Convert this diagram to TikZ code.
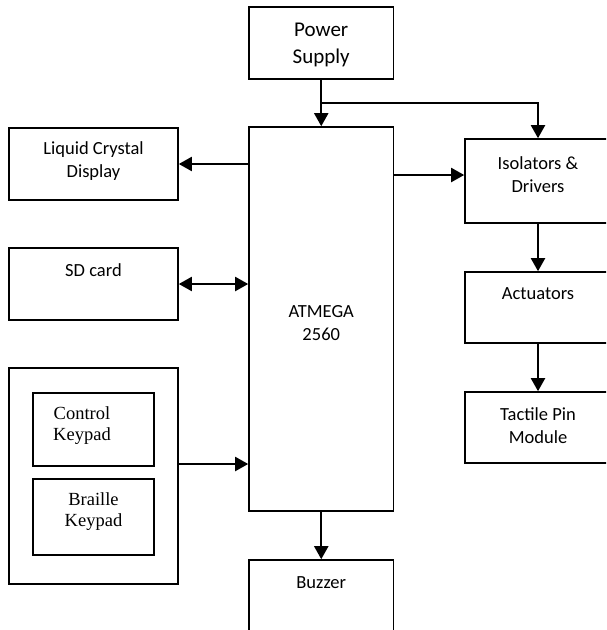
\documentclass[tikz,border=0pt]{standalone}
\usepackage{fontspec}
\setmainfont{Carlito}
\newfontfamily\keyfont{Liberation Serif}
\usetikzlibrary{arrows.meta}
\tikzset{blk/.style = {draw, line width=1.6pt, rectangle, inner sep=0, anchor=center}}
\tikzset{txt/.style = {align=center, inner sep=0, font=\fontsize{18.5}{23}\selectfont}}
\tikzset{arr/.style = {line width=2pt, -{Triangle[length=13pt,width=14pt]}}}
\tikzset{dbl/.style = {line width=2pt, {Triangle[length=13pt,width=14pt]}-{Triangle[length=13pt,width=14pt]}}}

\begin{document}
\begin{tikzpicture}[x=1pt, y=-1pt]
      \useasboundingbox (0, 0) rectangle (606, 630);
      \clip (0, 0) rectangle (606, 630);

      \node [blk, minimum width=144.5, minimum height=72] (power) at (321.25, 43) {};
      \node [blk, minimum width=144.5, minimum height=384] (atmega) at (321.25, 319) {};
      \node [blk, minimum width=144.5, minimum height=80] (buzzer) at (321.25, 600) {};

      \node [blk, minimum width=169, minimum height=72] (lcd) at (93.5, 164) {};
      \node [blk, minimum width=169, minimum height=72] (sd) at (93.5, 284) {};
      \node [blk, minimum width=169, minimum height=216] (keys) at (93.5, 476) {};
      \node [blk, minimum width=121, minimum height=73] (ctrl) at (93.5, 429.5) {};
      \node [blk, minimum width=121, minimum height=76] (brl) at (93.5, 517) {};

      \node [blk, minimum width=146, minimum height=84] (iso) at (538, 181) {};
      \node [blk, minimum width=146, minimum height=71] (act) at (538, 307.5) {};
      \node [blk, minimum width=146, minimum height=71] (tact) at (538, 427.5) {};

      % box texts
      \node [txt, font=\fontsize{21}{27}\selectfont] (powertxt) at (321.25, 45) {Power\\Supply};
      \node [txt] (atmegatxt) at (321.25, 323.5) {ATMEGA\\2560};
      \node [txt] (buzzertxt) at (321.25, 583) {Buzzer};
      \node [txt] (lcdtxt) at (93.5, 161.5) {Liquid Crystal\\Display};
      \node [txt] (sdtxt) at (93.5, 270) {SD card};
      \node [txt, font=\keyfont\fontsize{18.5}{21}\selectfont] (ctrltxt) at (82, 425.5) {Control\\Keypad};
      \node [txt, font=\keyfont\fontsize{18.5}{21}\selectfont] (brltxt) at (93.5, 511.5) {Braille\\Keypad};
      \node [txt] (isotxt) at (538, 174.5) {Isolators \&\\Drivers};
      \node [txt] (acttxt) at (538, 294) {Actuators};
      \node [txt] (tacttxt) at (538, 425.5) {Tactile Pin\\Module};

      % connectors
      \coordinate (split) at (321.25, 103);
      \coordinate (keysout) at ([yshift=12pt]keys.east);
      \coordinate (atmegaout) at ([yshift=6pt]atmega.east |- iso.west);
      \draw [arr] (power) -- (atmega);
      \draw [arr] (split) -| (iso);
      \draw [arr] (atmega.west |- lcd.east) -- (lcd);
      \draw [dbl] (sd) -- (atmega.west |- sd.east);
      \draw [arr] (keysout) -- (atmega.west |- keysout);
      \draw [arr] (atmegaout) -- (iso.west |- atmegaout);
      \draw [arr] (atmega) -- (buzzer);
      \draw [arr] (iso) -- (act);
      \draw [arr] (act) -- (tact);
    \end{tikzpicture}
\end{document}
